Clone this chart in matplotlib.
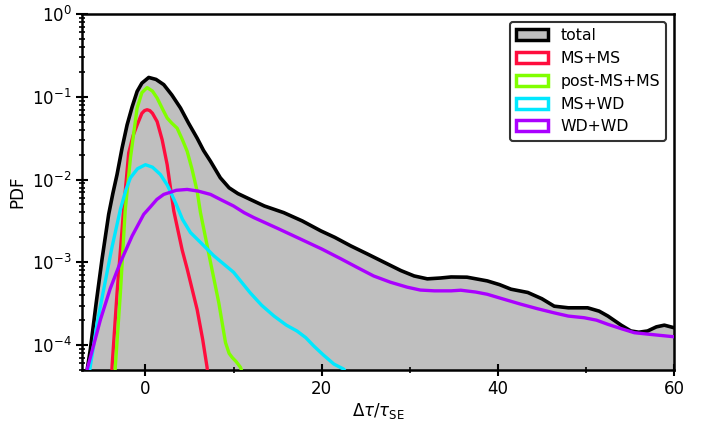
import matplotlib
matplotlib.use("Agg")
import matplotlib.pyplot as plt
from matplotlib.patches import Patch
from matplotlib.ticker import MultipleLocator, LogLocator, NullFormatter

# ---------------- data ----------------
total_x = [-6.9, -6.6, -6.25, -5.6, -4.92, -4.17, -3.7, -3.22, -2.65, -2.08, -1.5, -0.94,
           -0.4, 0.375, 1.2, 2.08, 3.0, 3.98, 4.9, 5.87, 6.6, 7.39, 8.5, 9.5, 10.5, 11.9,
           13.5, 15.7, 17.8, 19.9, 21.5, 23.3, 25.2, 27.1, 29.0, 30.5, 32.0, 33.5, 34.7,
           36.5, 38.8, 40.2, 41.5, 43.4, 45.0, 46.4, 48.0, 50.2, 51.5, 52.5, 54.0, 55.1,
           56.0, 57.0, 58.0, 58.9, 60.0]
total_y = [2.51e-5, 5.13e-5, 8.91e-5, 3.16e-4, 1.10e-3, 3.80e-3, 6.76e-3, 1.15e-2, 2.40e-2,
           4.57e-2, 7.59e-2, 0.116, 0.146, 0.171, 0.162, 0.140, 0.105, 7.31e-2, 4.79e-2,
           3.16e-2, 2.24e-2, 1.66e-2, 1.05e-2, 7.94e-3, 6.76e-3, 5.75e-3, 4.79e-3, 3.98e-3,
           3.16e-3, 2.40e-3, 2.00e-3, 1.58e-3, 1.26e-3, 1.00e-3, 7.94e-4, 6.84e-4, 6.31e-4,
           6.46e-4, 6.65e-4, 6.61e-4, 5.96e-4, 5.37e-4, 4.73e-4, 4.32e-4, 3.63e-4, 2.95e-4,
           2.82e-4, 2.82e-4, 2.57e-4, 2.24e-4, 1.74e-4, 1.48e-4, 1.43e-4, 1.48e-4, 1.66e-4,
           1.74e-4, 1.62e-4]

msms_x = [-3.9, -3.78, -3.22, -2.47, -1.9, -1.4, -0.94, -0.4, -0.1, 0.19, 0.5, 0.8, 1.33,
          1.9, 2.47, 3.22, 4.17, 4.74, 5.87, 6.5, 7.0, 7.2]
msms_y = [2.51e-5, 5.62e-5, 4.27e-4, 4.37e-3, 2.09e-2, 3.39e-2, 4.57e-2, 6.31e-2, 6.80e-2,
          6.97e-2, 6.80e-2, 6.31e-2, 5.01e-2, 3.02e-2, 1.51e-2, 4.17e-3, 1.41e-3, 8.32e-4,
          2.69e-4, 1.17e-4, 5.37e-5, 3.16e-5]

postms_x = [-3.6, -3.41, -2.84, -2.3, -1.7, -1.3, -0.94, -0.4, 0.19, 0.8, 1.33, 2.0, 2.47,
            3.0, 3.6, 4.2, 4.74, 5.3, 5.87, 6.25, 7.39, 8.33, 9.09, 9.5, 9.85, 10.3, 10.8,
            11.2]
postms_y = [2.51e-5, 5.62e-5, 4.27e-4, 4.17e-3, 1.82e-2, 3.80e-2, 7.31e-2, 0.112, 0.129,
            0.117, 9.64e-2, 6.92e-2, 5.53e-2, 4.79e-2, 4.17e-2, 3.02e-2, 2.19e-2, 1.32e-2,
            7.24e-3, 3.98e-3, 1.00e-3, 3.24e-4, 1.07e-4, 7.94e-5, 7.08e-5, 6.31e-5, 5.37e-5,
            3.98e-5]

mswd_x = [-6.6, -6.25, -5.5, -4.74, -3.8, -2.84, -2.2, -1.7, -0.9, 0.0, 0.8, 1.7, 2.5, 3.5,
          4.2, 5.11, 6.25, 7.76, 10.0, 11.9, 13.2, 14.6, 16.0, 17.2, 18.2, 19.1, 20.2,
          21.4, 22.5, 23.2]
mswd_y = [3.16e-5, 5.62e-5, 1.78e-4, 4.68e-4, 1.51e-3, 4.37e-3, 7.59e-3, 1.05e-2, 1.35e-2,
          1.51e-2, 1.41e-2, 1.15e-2, 8.51e-3, 5.01e-3, 3.31e-3, 2.29e-3, 1.74e-3, 1.20e-3,
          7.59e-4, 4.27e-4, 3.02e-4, 2.24e-4, 1.74e-4, 1.48e-4, 1.23e-4, 9.77e-5, 7.59e-5,
          5.89e-5, 5.13e-5, 3.98e-5]

wdwd_x = [-6.9, -6.6, -5.1, -4.0, -2.84, -1.5, -0.19, 0.57, 1.3, 2.08, 3.5, 4.74, 6.0,
          7.39, 8.5, 10.0, 11.2, 12.3, 15.0, 17.6, 20.0, 22.2, 24.0, 25.9, 27.8, 29.7, 31.2,
          32.8, 34.7, 35.8, 37.5, 38.8, 40.5, 42.6, 44.5, 46.4, 48.0, 49.8, 51.2, 52.5,
          54.0, 55.5, 57.8, 60.0]
wdwd_y = [2.82e-5, 5.13e-5, 2.04e-4, 4.79e-4, 1.00e-3, 2.09e-3, 3.80e-3, 4.68e-3, 5.75e-3,
          6.61e-3, 7.41e-3, 7.59e-3, 7.24e-3, 6.61e-3, 5.75e-3, 4.79e-3, 3.98e-3, 3.47e-3,
          2.57e-3, 1.91e-3, 1.45e-3, 1.10e-3, 8.71e-4, 6.84e-4, 5.75e-4, 5.01e-4, 4.62e-4,
          4.52e-4, 4.52e-4, 4.60e-4, 4.37e-4, 4.11e-4, 3.63e-4, 3.12e-4, 2.75e-4, 2.45e-4,
          2.24e-4, 2.14e-4, 2.00e-4, 1.78e-4, 1.58e-4, 1.41e-4, 1.33e-4, 1.26e-4]

labels = ["total", "MS+MS", "post-MS+MS", "MS+WD", "WD+WD"]
colors = ["black", "#ff0d3d", "#80ff00", "#00e8ff", "#aa00ff"]
fill_color = "#bfbfbf"

x_ticks = [0, 20, 40, 60]

# ---------------- plot ----------------
plt.rcParams["font.family"] = "DejaVu Sans"
plt.rcParams["font.size"] = 12

fig = plt.figure(figsize=(7.08, 4.23), dpi=100)
ax = fig.add_axes([0.1158, 0.1253, 0.8362, 0.8417])

ax.fill_between(total_x, total_y, 1e-7, color=fill_color, lw=0, zorder=1)
ax.plot(total_x, total_y, color=colors[0], lw=2.6, zorder=3,
        solid_joinstyle="round", solid_capstyle="round")
series = [(msms_x, msms_y), (postms_x, postms_y), (mswd_x, mswd_y), (wdwd_x, wdwd_y)]
for (sx, sy), c in zip(series, colors[1:]):
    ax.plot(sx, sy, color=c, lw=2.4, zorder=4,
            solid_joinstyle="round", solid_capstyle="round")

ax.set_yscale("log")
ax.set_xlim(-7.2, 60)
ax.set_ylim(5e-5, 1)
ax.set_xticks(x_ticks)
ax.xaxis.set_minor_locator(MultipleLocator(10))
ax.yaxis.set_major_locator(LogLocator(base=10, numticks=10))
ax.yaxis.set_minor_locator(LogLocator(base=10, subs=range(2, 10), numticks=20))
ax.yaxis.set_minor_formatter(NullFormatter())

ax.tick_params(which="major", direction="inout", length=8, width=1.5, labelsize=12)
ax.tick_params(which="minor", direction="inout", length=5, width=1.2)
for s in ax.spines.values():
    s.set_linewidth(1.8)

ax.set_xlabel(r"$\Delta\tau/\tau_{\rm SE}$", fontsize=12, labelpad=2)
ax.set_ylabel("PDF", fontsize=12)

handles = [Patch(facecolor=fill_color, edgecolor="black", lw=2.5)]
handles += [Patch(facecolor="white", edgecolor=c, lw=2.5) for c in colors[1:]]
leg = ax.legend(handles, labels, loc="upper right", fontsize=11.3, framealpha=1,
                edgecolor="0.2", fancybox=True)
leg.get_frame().set_linewidth(1.5)

fig.savefig("out.png", dpi=100)
